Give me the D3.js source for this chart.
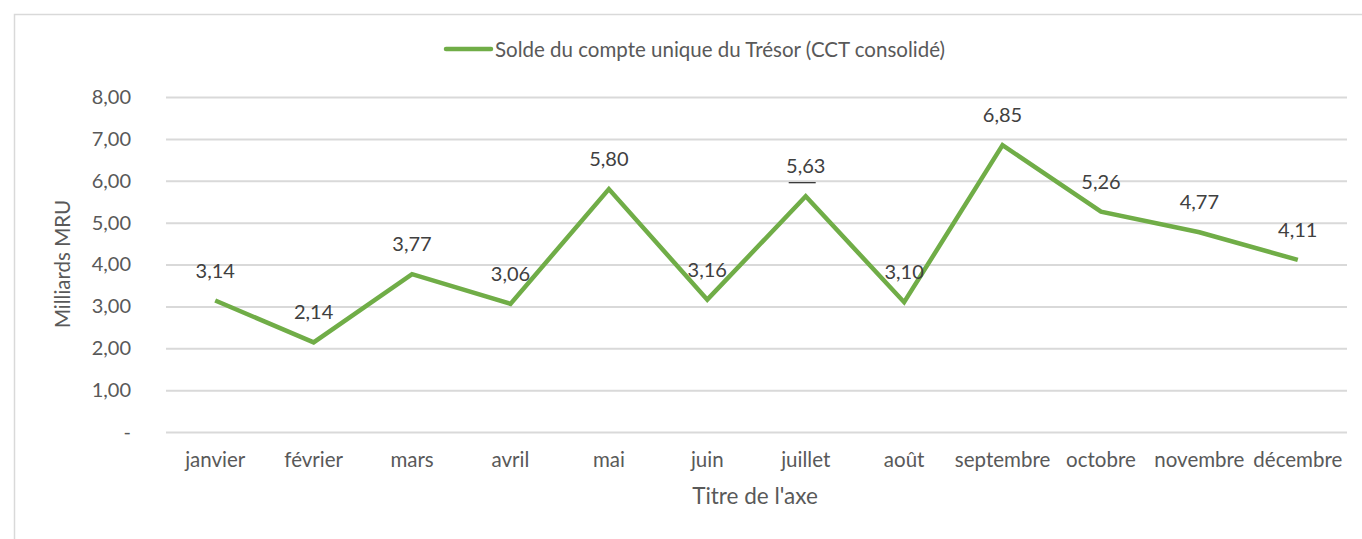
<!DOCTYPE html>
<html><head><meta charset="utf-8">
<script src="https://cdn.jsdelivr.net/npm/d3@7"></script>
<style>body{margin:0;background:#fff;}svg{display:block;font-family:Lato,sans-serif;}</style>
</head><body>
<svg id="c" width="1362" height="539"></svg>
<script>
const months = ["janvier","février","mars","avril","mai","juin","juillet","août","septembre","octobre","novembre","décembre"];
const values = [3.14,2.14,3.77,3.06,5.80,3.16,5.63,3.10,6.85,5.26,4.77,4.11];
const yTicks = [0,1,2,3,4,5,6,7,8];
const seriesName = "Solde du compte unique du Trésor (CCT consolidé)";
const yTitle = "Milliards MRU";
const xTitle = "Titre de l'axe";

const svg = d3.select("#c");
const pL = 166, pR = 1347, pT = 97, pB = 432;
const x = d3.scaleBand().domain(months).range([pL, pR]);
const y = d3.scaleLinear().domain([0, 8]).range([pB, pT]);
const fmt = v => v === 0 ? "-" : d3.format(".2f")(v).replace(".", ",");
const FONT = "Lato";

// chart border
svg.append("path").attr("d","M14.5,539 V14.5 H1362").attr("fill","none").attr("stroke","#d9d9d9").attr("stroke-width",1.5);

// gridlines + y labels
const ya = d3.axisLeft(y).tickValues(yTicks).tickSize(-(pR-pL)).tickFormat(fmt).tickPadding(35);
const gy = svg.append("g").attr("transform",`translate(${pL},0)`).call(ya);
gy.select(".domain").remove();
gy.selectAll(".tick line").attr("stroke","#d9d9d9").attr("stroke-width",2);
gy.selectAll(".tick text").attr("fill","#595959").style("font-size","20px").style("font-family",FONT);

// x labels
const xa = d3.axisBottom(x).tickSize(0).tickPadding(20);
const gx = svg.append("g").attr("transform",`translate(0,${pB})`).call(xa);
gx.select(".domain").remove();
gx.selectAll(".tick text").attr("fill","#595959").style("font-size","20.5px").style("font-family",FONT);

// line
const line = d3.line().x((d,i)=>x(months[i])+x.bandwidth()/2).y(d=>y(d));
svg.append("path").datum(values).attr("d",line).attr("fill","none").attr("stroke","#70ad47").attr("stroke-width",4.5).attr("stroke-linejoin","miter");

// data labels
svg.append("g").selectAll("text").data(values).join("text")
  .attr("x",(d,i)=>x(months[i])+x.bandwidth()/2)
  .attr("y",d=>y(d)-23)
  .attr("text-anchor","middle").attr("fill","#404040")
  .style("font-size","20px").style("font-family",FONT).text(d=>fmt(d));
// small underline artifact under "5,63"
const ji = months.indexOf("juillet");
svg.append("line").attr("x1",x(months[ji])+x.bandwidth()/2-17).attr("x2",x(months[ji])+x.bandwidth()/2+10)
  .attr("y1",y(values[ji])-13.5).attr("y2",y(values[ji])-13.5).attr("stroke","#000").attr("stroke-width",1);

// legend
svg.append("line").attr("x1",446).attr("x2",491).attr("y1",49).attr("y2",49).attr("stroke","#70ad47").attr("stroke-width",4.5).attr("stroke-linecap","round");
svg.append("text").attr("x",495).attr("y",57).attr("fill","#595959").style("font-size","20.5px").style("font-family",FONT).text(seriesName);

// axis titles
svg.append("text").attr("transform",`translate(70,264) rotate(-90)`).attr("text-anchor","middle").attr("fill","#595959").style("font-size","20.5px").style("font-family",FONT).text(yTitle);
svg.append("text").attr("x",755).attr("y",504).attr("text-anchor","middle").attr("fill","#595959").style("font-size","22.5px").style("font-family",FONT).text(xTitle);
</script>
</body></html>
